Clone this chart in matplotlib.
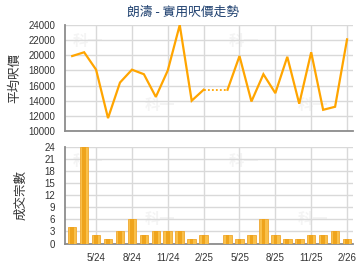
import numpy as np
import matplotlib
matplotlib.use('Agg')
import matplotlib.pyplot as plt

plt.rcParams['font.family'] = ['Liberation Sans', 'Noto Sans CJK TC', 'DejaVu Sans']

months = ['3/24', '4/24', '5/24', '6/24', '7/24', '8/24', '9/24', '10/24', '11/24', '12/24',
          '1/25', '2/25', '3/25', '4/25', '5/25', '6/25', '7/25', '8/25', '9/25', '10/25',
          '11/25', '12/25', '1/26', '2/26']
price = [19900, 20400, 18100, 11700, 16400, 18100, 17500, 14500, 18000, 24000,
         14000, 15450, np.nan, 15450, 19900, 13900, 17500, 15000, 19800, 13600,
         20400, 12800, 13200, 22100]
deals = [4, 24, 2, 1, 3, 6, 2, 3, 3, 3, 1, 2, 0, 2, 1, 2, 6, 2, 1, 1, 2, 2, 3, 1]
tick_labels = ['5/24', '8/24', '11/24', '2/25', '5/25', '8/25', '11/25', '2/26']

title = '朗濤 - 實用呎價走勢'
cjk = ['Noto Sans CJK TC', 'DejaVu Sans']

x = np.arange(len(months))
price = np.array(price, dtype=float)
tick_pos = [months.index(t) for t in tick_labels]

fig = plt.figure(figsize=(3.6, 2.7), dpi=100)
ax1 = fig.add_axes([0.1806, 0.5148, 0.8, 0.3926])
ax2 = fig.add_axes([0.1806, 0.0981, 0.8, 0.3574])

grid_c = '#d9d9d9'
spine_c = '#8c8c8c'
orange = '#FFA500'

for ax in (ax1, ax2):
    ax.set_xlim(-0.6, 23.5)
    ax.set_xticks(tick_pos)
    ax.grid(True, color=grid_c, linewidth=1.0)
    ax.set_axisbelow(True)
    for s in ('top', 'right'):
        ax.spines[s].set_visible(False)
    for s in ('left', 'bottom'):
        ax.spines[s].set_color(spine_c)
        ax.spines[s].set_linewidth(1.3)
    ax.tick_params(length=0, labelsize=7, colors='#333333', pad=7)

# watermarks
for (wx, wy) in [(0.08, 0.85), (0.62, 0.85), (0.33, 0.25), (0.86, 0.25)]:
    for ax in (ax1, ax2):
        ax.text(wx, wy, '科一', transform=ax.transAxes, fontsize=11, fontweight='bold',
                color='#f4f4f4', family=cjk, ha='center', va='center', zorder=0)

# price line
ax1.plot(x, price, color=orange, linewidth=1.6, solid_joinstyle='miter', zorder=3)
gaps = np.where(np.isnan(price))[0]
for g in gaps:
    ax1.plot([x[g - 1], x[g + 1]], [price[g - 1], price[g + 1]], color=orange,
             linewidth=1.3, linestyle=(0, (1, 1.2)), zorder=3)
ax1.set_ylim(10000, 24000)
ax1.set_yticks(np.arange(10000, 24001, 2000))
ax1.tick_params(axis='x', labelbottom=False)
ax1.set_ylabel('平均呎價', family=cjk, fontsize=9, color='#333333', labelpad=5)

# deals bars
ax2.bar(x, deals, width=0.72, color='#F9C04A', edgecolor='#F0A830', linewidth=0.6, zorder=3)
ax2.bar(x, deals, width=0.3, color='#EFA41C', linewidth=0, zorder=3)
ax2.set_ylim(0, 24)
ax2.set_yticks(np.arange(0, 25, 3))
ax2.set_xticklabels(tick_labels)
ax2.set_ylabel('成交宗數', family=cjk, fontsize=9, color='#333333', labelpad=12)

fig.text(0.508, 0.955, title, family=cjk, fontsize=9.2, color='#1d3f6e',
         ha='center', va='center')

fig.savefig('out.png', dpi=100)
